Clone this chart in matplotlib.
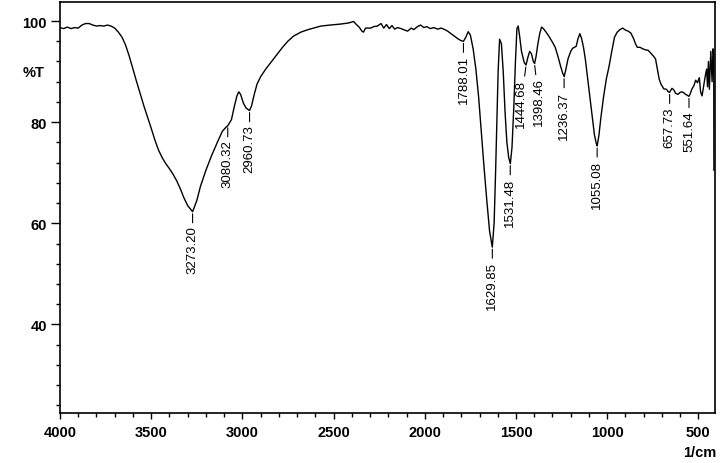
import matplotlib
matplotlib.use("Agg")
import matplotlib.pyplot as plt
from matplotlib.ticker import MultipleLocator

plt.rcParams['font.family'] = ['Liberation Sans', 'DejaVu Sans']

wavenumber = [
    4000, 3980, 3960, 3940, 3920, 3900, 3880, 3860, 3840, 3820, 3800, 3780, 3760,
    3740, 3720, 3700, 3680, 3660, 3640, 3620, 3600, 3580, 3560, 3540, 3520, 3500,
    3480, 3460, 3440, 3420, 3400, 3380, 3360, 3340, 3320, 3300, 3273, 3250, 3230,
    3200, 3170, 3140, 3110, 3090, 3080, 3060, 3045, 3030, 3020, 3010, 2995, 2980,
    2961, 2950, 2935, 2920, 2900, 2870, 2840, 2808, 2780, 2751, 2720, 2680, 2640,
    2600, 2570, 2520, 2461, 2420, 2390, 2375, 2360, 2345, 2336, 2325, 2296, 2280,
    2260, 2240, 2225, 2210, 2195, 2180, 2165, 2150, 2130, 2110, 2094, 2075, 2060,
    2040, 2023, 2005, 1990, 1970, 1950, 1930, 1910, 1890, 1875, 1860, 1845, 1830,
    1815, 1800, 1788, 1775, 1762, 1750, 1735, 1720, 1705, 1690, 1675, 1660, 1645,
    1630, 1620, 1612, 1605, 1598, 1590, 1580, 1570, 1560, 1550, 1540, 1531, 1522,
    1512, 1503, 1495, 1488, 1480, 1470, 1455, 1445, 1435, 1425, 1415, 1405, 1398,
    1390, 1380, 1370, 1360, 1350, 1335, 1320, 1300, 1285, 1270, 1255, 1245, 1236,
    1228, 1215, 1200, 1190, 1180, 1170, 1160, 1150, 1140, 1130, 1120, 1110, 1100,
    1090, 1080, 1070, 1060, 1055, 1045, 1035, 1020, 1005, 990, 975, 960, 945, 930,
    915, 900, 885, 870, 855, 845, 835, 820, 805, 790, 775, 760, 745, 735, 725, 715,
    705, 690, 675, 665, 658, 645, 635, 625, 612, 600, 590, 580, 570, 560, 552, 545,
    535, 525, 515, 505, 495, 488, 480, 472, 462, 455, 450, 445, 440, 432, 425, 420,
    416, 415,
]
transmittance = [
    98.7, 98.5, 98.8, 98.5, 98.7, 98.6, 99.2, 99.5, 99.5, 99.2, 99.0, 99.1, 99.0,
    99.2, 99.0, 98.6, 97.8, 96.8, 95.2, 93.0, 90.5, 88.0, 85.6, 83.2, 81.0, 78.8,
    76.5, 74.5, 73.0, 71.8, 70.8, 69.7, 68.4, 66.8, 65.0, 63.5, 62.3, 64.5, 67.3,
    70.5, 73.3, 75.8, 78.2, 79.0, 79.3, 80.5, 83.0, 85.2, 86.0, 85.5, 83.8, 82.8,
    82.3, 83.2, 85.5, 87.5, 89.0, 90.6, 92.0, 93.5, 94.8, 96.0, 97.0, 97.8, 98.3,
    98.7, 99.0, 99.2, 99.4, 99.6, 99.9, 99.3, 98.8, 98.0, 97.8, 98.6, 98.6, 98.9,
    99.0, 99.5, 98.6, 99.3, 98.5, 99.1, 98.4, 98.7, 98.5, 98.2, 98.0, 98.6, 98.3,
    98.9, 99.2, 98.7, 98.9, 98.5, 98.7, 98.4, 98.6, 98.3, 98.0, 97.6, 97.2, 96.8,
    96.4, 96.1, 96.0, 96.8, 97.9, 97.2, 94.5, 90.5, 85.0, 78.0, 71.0, 64.5, 58.5,
    55.3, 60.0, 70.0, 80.0, 90.0, 96.4, 95.5, 90.0, 82.0, 76.0, 73.0, 71.8, 75.0,
    83.0, 92.0, 98.5, 99.0, 97.0, 94.0, 91.8, 91.3, 92.8, 94.0, 93.5, 92.0, 91.6,
    93.0, 95.5, 97.5, 98.8, 98.5, 97.8, 97.0, 95.8, 94.8, 93.0, 91.0, 89.8, 89.0,
    90.2, 92.5, 94.0, 94.6, 94.8, 95.0, 96.5, 97.5, 96.5, 94.8, 92.5, 89.5, 86.5,
    83.5, 80.5, 77.5, 75.8, 75.3, 77.5, 80.8, 85.0, 88.5, 91.0, 94.0, 96.8, 97.8,
    98.3, 98.6, 98.2, 98.0, 97.6, 96.5, 95.5, 94.8, 94.8, 94.5, 94.3, 94.2, 93.6,
    93.0, 92.5, 90.5, 88.5, 87.5, 86.6, 86.5, 86.0, 85.9, 86.7, 86.4, 85.7, 85.5,
    85.9, 86.0, 85.8, 85.5, 85.3, 85.1, 85.6, 86.6, 87.2, 88.3, 87.8, 88.8, 86.0,
    85.2, 87.0, 89.2, 90.5, 87.0, 92.0, 86.5, 94.0, 88.0, 94.5, 93.5, 70.5,
]

peak_positions = [3273.20, 3080.32, 2960.73, 1788.01, 1629.85, 1531.48,
                  1444.68, 1398.46, 1236.37, 1055.08, 657.73, 551.64]
peak_values = [62.3, 79.3, 82.3, 96.0, 55.3, 71.8, 91.3, 91.6, 89.0, 75.3, 85.9, 85.1]
peak_labels = ["3273.20", "3080.32", "2960.73", "1788.01", "1629.85", "1531.48",
               "1444.68", "1398.46", "1236.37", "1055.08", "657.73", "551.64"]

y_ticks = [40, 60, 80, 100]
x_ticks = [4000, 3500, 3000, 2500, 2000, 1500, 1000, 500]

# horizontal nudges (points) for crowded labels
label_dx = {"1444.68": -3.5, "1398.46": 3.0}

W, H = 722, 464
fig = plt.figure(figsize=(W / 100, H / 100), dpi=100)
ax = fig.add_axes([60 / W, 1 - 414 / H, 655 / W, 411 / H])

ax.plot(wavenumber, transmittance, color='black', lw=1.0)

ax.set_xlim(4000, 409)
ax.set_ylim(22.5, 103.76)

ax.set_xticks(x_ticks)
ax.xaxis.set_minor_locator(MultipleLocator(100))
ax.set_yticks(y_ticks)
ax.yaxis.set_minor_locator(MultipleLocator(4))

ax.tick_params(axis='y', which='major', direction='out', length=6.5, width=1.0,
               pad=3, labelsize=10.5)
ax.tick_params(axis='y', which='minor', direction='out', length=3, width=1.0)
ax.tick_params(axis='x', which='major', direction='out', length=4, width=1.0,
               pad=5, labelsize=10.5)
ax.tick_params(axis='x', which='minor', direction='out', length=3, width=1.0)
for lab in ax.get_xticklabels() + ax.get_yticklabels():
    lab.set_fontweight('bold')

for s in ax.spines.values():
    s.set_linewidth(1.2)

for xp, yp, lab in zip(peak_positions, peak_values, peak_labels):
    dx = label_dx.get(lab, 0)
    ax.annotate(lab, xy=(xp, yp), xytext=(dx, -10), textcoords='offset points',
                rotation=90, ha='center', va='top', fontsize=9.5, color='black',
                arrowprops=dict(arrowstyle='-', lw=0.8, color='black',
                                shrinkA=0, shrinkB=1.5))

fig.text(34 / W, 1 - 73 / H, "%T", ha='center', va='center', fontsize=10.5,
         fontweight='bold')
fig.text(716 / W, 1 - 453 / H, "1/cm", ha='right', va='center', fontsize=10.5,
         fontweight='bold')

fig.savefig("out.png", dpi=100)
